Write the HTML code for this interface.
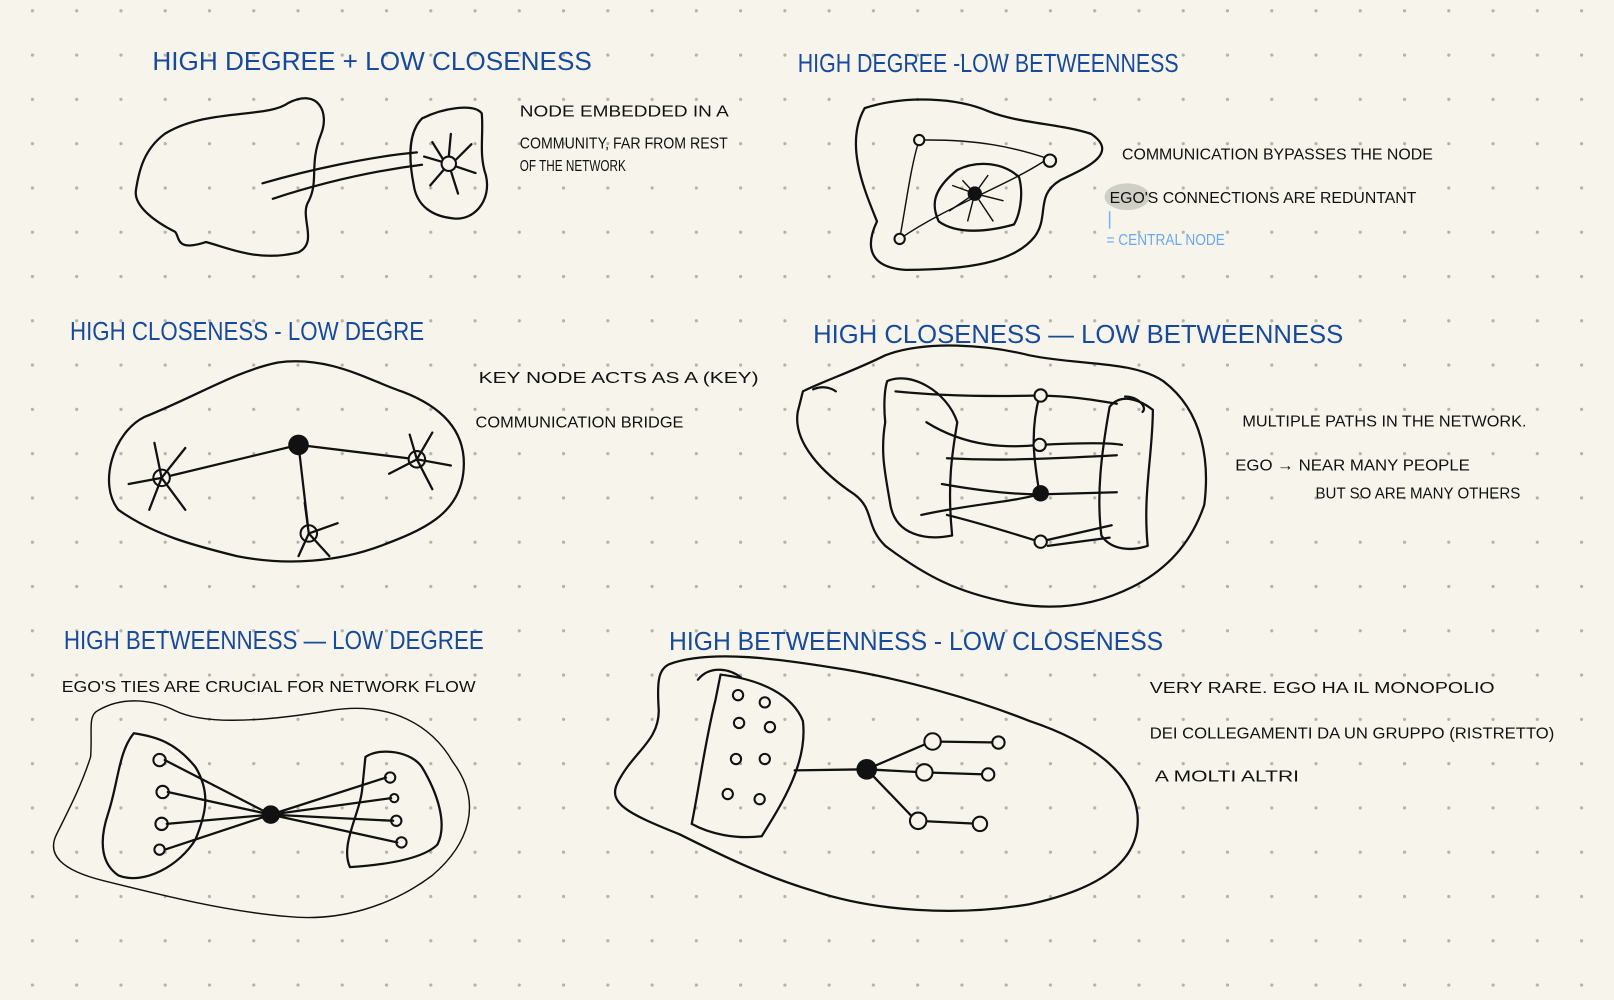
<!DOCTYPE html>
<html><head><meta charset="utf-8"><style>
html,body{margin:0;padding:0;background:#f7f5eb;}
svg{display:block}
.t{font-family:"Liberation Sans",sans-serif;fill:#174a9c;font-size:25px}
.n{font-family:"Liberation Sans",sans-serif;fill:#111;font-size:15px}
.l{fill:none;stroke:#111;stroke-width:2.2;stroke-linecap:round;stroke-linejoin:round}
.th{fill:none;stroke:#111;stroke-width:1.4}
.o{fill:#f7f5eb;stroke:#111;stroke-width:2}
</style></head><body>
<svg width="1614" height="1000" viewBox="0 0 1568 971" preserveAspectRatio="none">
<defs><pattern id="d" x="30" y="9" width="43" height="43" patternUnits="userSpaceOnUse"><circle cx="1.5" cy="1.5" r="1.6" fill="#b4b2aa"/></pattern></defs>
<rect width="1568" height="971" fill="#f7f5eb"/>
<rect width="1568" height="971" fill="url(#d)"/>

<!-- titles -->
<text class="t" x="148" y="68" textLength="427" lengthAdjust="spacingAndGlyphs">HIGH DEGREE + LOW CLOSENESS</text>
<text class="t" x="775" y="70" textLength="370" lengthAdjust="spacingAndGlyphs">HIGH DEGREE -LOW BETWEENNESS</text>
<text class="t" x="68" y="330" textLength="344" lengthAdjust="spacingAndGlyphs">HIGH CLOSENESS - LOW DEGRE</text>
<text class="t" x="790" y="333" textLength="515" lengthAdjust="spacingAndGlyphs">HIGH CLOSENESS — LOW BETWEENNESS</text>
<text class="t" x="62" y="630" textLength="408" lengthAdjust="spacingAndGlyphs">HIGH BETWEENNESS — LOW DEGREE</text>
<text class="t" x="650" y="631" textLength="480" lengthAdjust="spacingAndGlyphs">HIGH BETWEENNESS - LOW CLOSENESS</text>

<!-- notes -->
<text class="n" x="505" y="113" textLength="203" lengthAdjust="spacingAndGlyphs">NODE EMBEDDED IN A</text>
<text class="n" x="505" y="144" textLength="202" lengthAdjust="spacingAndGlyphs">COMMUNITY, FAR FROM REST</text>
<text class="n" x="505" y="166" font-size="12" textLength="103" lengthAdjust="spacingAndGlyphs">OF THE NETWORK</text>
<text class="n" x="1090" y="155" textLength="302" lengthAdjust="spacingAndGlyphs">COMMUNICATION BYPASSES THE NODE</text>
<ellipse cx="1095" cy="191" rx="22" ry="13" fill="#cfcfc6"/>
<text class="n" x="1078" y="197" textLength="298" lengthAdjust="spacingAndGlyphs">EGO'S  CONNECTIONS ARE REDUNTANT</text>
<line x1="1078" y1="205" x2="1078" y2="222" stroke="#7ab2f0" stroke-width="1.5"/>
<text class="n" x="1075" y="238" font-size="12" style="fill:#6aa8ee" textLength="115" lengthAdjust="spacingAndGlyphs">= CENTRAL NODE</text>
<text class="n" x="465" y="372" textLength="272" lengthAdjust="spacingAndGlyphs">KEY  NODE ACTS AS A (KEY)</text>
<text class="n" x="462" y="415" textLength="202" lengthAdjust="spacingAndGlyphs">COMMUNICATION BRIDGE</text>
<text class="n" x="1207" y="414" textLength="276" lengthAdjust="spacingAndGlyphs">MULTIPLE PATHS IN THE NETWORK.</text>
<text class="n" x="1200" y="457" textLength="228" lengthAdjust="spacingAndGlyphs">EGO →  NEAR MANY PEOPLE</text>
<text class="n" x="1278" y="484" font-size="13" textLength="199" lengthAdjust="spacingAndGlyphs">BUT SO ARE MANY OTHERS</text>
<text class="n" x="60" y="672" textLength="402" lengthAdjust="spacingAndGlyphs">EGO'S TIES ARE CRUCIAL FOR NETWORK FLOW</text>
<text class="n" x="1117" y="673" font-size="17" textLength="335" lengthAdjust="spacingAndGlyphs">VERY RARE. EGO HA IL MONOPOLIO</text>
<text class="n" x="1117" y="717" textLength="393" lengthAdjust="spacingAndGlyphs">DEI COLLEGAMENTI DA UN GRUPPO (RISTRETTO)</text>
<text class="n" x="1122" y="759" textLength="140" lengthAdjust="spacingAndGlyphs">A MOLTI ALTRI</text>

<!-- diagram 1 -->
<path class="l" d="M160,130 C200,105 260,115 280,100 C310,85 320,110 312,130 C300,160 310,175 300,195 C290,210 310,235 290,245 C250,255 220,240 200,235 C170,245 175,230 170,225 C150,215 130,200 132,185 C135,165 140,145 160,130 Z"/>
<path class="l" d="M255,178 C300,165 360,152 405,148 M265,193 C320,175 370,165 410,160"/>
<path class="l" d="M410,115 C430,105 460,100 468,110 C470,130 465,150 472,170 C478,195 460,215 440,212 C420,210 405,200 402,180 C398,160 395,130 410,115 Z"/>
<circle class="o" cx="436" cy="159" r="7"/>
<path class="l" d="M436,152 L438,130 M443,155 L458,140 M444,162 L462,168 M438,166 L445,188 M431,165 L418,180 M429,157 L412,152 M430,154 L420,138"/>

<!-- diagram 2 -->
<path class="l" d="M840,105 C880,92 930,95 960,108 C990,120 1030,120 1060,130 C1090,150 1050,165 1030,175 C1005,190 1020,210 1005,230 C985,255 940,262 880,262 C845,260 840,240 852,215 C840,185 820,140 840,105 Z"/>
<path class="th" d="M893,136 C950,135 985,143 1018,154 M893,136 C885,160 880,200 874,232 M874,232 C920,200 980,180 1018,154"/>
<circle class="o" cx="893" cy="136" r="5"/><circle class="o" cx="1020" cy="156" r="6"/><circle class="o" cx="874" cy="232" r="5"/>
<path class="l" d="M930,165 C950,155 975,158 990,172 C995,190 990,210 985,218 C960,225 930,228 912,215 C905,200 905,185 930,165 Z"/>
<circle cx="947" cy="188" r="7" fill="#111"/>
<path class="th" d="M947,188 L925,180 M947,188 L935,175 M947,188 L960,170 M947,188 L975,195 M947,188 L965,215 M947,188 L940,215 M947,188 L922,205"/>

<!-- diagram 3 -->
<path class="l" d="M140,405 C190,385 230,360 270,352 C320,345 360,370 390,380 C430,395 455,420 450,460 C445,500 410,515 370,530 C330,545 280,550 230,540 C190,530 150,520 115,495 C95,470 110,420 140,405 Z"/>
<path class="l" d="M157,464 L290,432 L405,446 M290,432 L300,518"/>
<circle cx="290" cy="432" r="10" fill="#111"/>
<circle class="o" cx="157" cy="464" r="8"/><circle class="o" cx="405" cy="446" r="8"/><circle class="o" cx="300" cy="518" r="8"/>
<path class="l" d="M157,464 L150,430 M157,464 L180,435 M157,464 L125,470 M157,464 L145,495 M157,464 L180,495 M405,446 L420,420 M405,446 L398,422 M405,446 L438,452 M405,446 L378,460 M405,446 L420,475 M300,518 L290,540 M300,518 L320,540 M300,518 L296,488 M300,518 L328,508"/>

<!-- diagram 4 -->
<path class="l" d="M780,380 C800,370 830,360 860,345 C900,330 960,335 1000,345 C1050,355 1100,350 1130,370 C1170,400 1175,450 1170,490 C1160,520 1140,550 1100,570 C1070,585 1030,595 980,585 C930,575 900,560 860,530 C840,510 850,495 830,480 C800,460 770,430 775,400 Z"/>
<path class="l" d="M790,378 C800,374 808,377 812,380"/>
<path class="l" d="M862,370 C885,360 920,380 930,410 C925,440 920,470 925,520 C900,525 870,520 865,490 C860,460 855,440 860,410 C858,390 860,375 862,370 Z"/>
<path class="l" d="M1078,395 C1090,380 1110,390 1120,398 C1120,440 1110,480 1115,530 C1100,535 1080,535 1070,520 C1065,480 1070,440 1078,395 Z"/>
<path class="l" d="M1093,385 C1105,385 1115,395 1110,400"/>
<path class="l" d="M870,380 C920,385 970,385 1010,384 M1010,384 C1050,385 1070,390 1085,392 M900,410 C940,435 980,435 1010,432 M1010,432 C1050,430 1080,430 1090,432 M920,445 C960,447 990,447 1085,442 M915,470 C960,478 990,480 1010,480 L1085,478 M920,500 C960,510 990,520 1010,526 M1010,526 L1080,510 M1018,530 L1078,522 M895,500 C940,490 980,488 1010,480 M1010,384 C1000,420 1005,450 1010,480"/>
<circle class="o" cx="1011" cy="384" r="6"/><circle class="o" cx="1010" cy="432" r="6"/><circle cx="1011" cy="479" r="8" fill="#111"/><circle class="o" cx="1011" cy="526" r="6"/>

<!-- diagram 5 -->
<path class="th" d="M95,690 C120,675 150,680 170,690 C200,705 260,700 320,690 C380,680 420,705 440,740 C470,780 455,820 420,850 C380,880 330,895 280,890 C220,885 160,870 100,855 C60,845 45,830 55,810 C70,780 80,760 88,735 C90,710 85,695 95,690 Z"/>
<path class="l" d="M130,712 C150,715 170,720 190,745 C205,770 200,790 190,815 C175,840 140,860 115,850 C100,840 95,820 105,790 C115,760 115,730 130,712 Z"/>
<path class="l" d="M355,735 C370,725 400,730 410,745 C425,770 435,800 425,820 C410,835 370,840 340,842 C330,820 350,790 352,765 Z"/>
<circle class="o" cx="155" cy="738" r="6"/><circle class="o" cx="158" cy="769" r="6"/><circle class="o" cx="157" cy="800" r="6"/><circle class="o" cx="155" cy="825" r="5"/>
<circle class="o" cx="379" cy="755" r="5"/><circle class="o" cx="383" cy="775" r="4"/><circle class="o" cx="385" cy="797" r="5"/><circle class="o" cx="390" cy="818" r="5"/>
<path class="l" d="M160,738 L263,791 M163,769 L263,791 M162,800 L263,791 M160,825 L263,791 M263,791 L375,755 M263,791 L380,775 M263,791 L382,797 M263,791 L386,818"/>
<circle cx="263" cy="791" r="9" fill="#111"/>

<!-- diagram 6 -->
<path class="l" d="M650,645 C690,630 760,640 820,650 C880,660 950,680 1000,700 C1060,720 1100,750 1105,790 C1110,840 1060,865 1000,878 C930,890 850,885 790,865 C740,850 700,830 660,810 C610,790 590,780 600,760 C615,730 640,720 640,690 C638,660 640,650 650,645 Z"/>
<path class="l" d="M678,660 C690,645 710,650 720,658"/>
<path class="l" d="M700,655 C740,660 770,675 780,700 C785,740 760,780 740,812 C715,815 690,810 672,800 C680,760 685,720 695,680 Z"/>
<circle class="o" cx="717" cy="675" r="5"/><circle class="o" cx="743" cy="682" r="5"/><circle class="o" cx="718" cy="702" r="5"/><circle class="o" cx="748" cy="706" r="5"/><circle class="o" cx="715" cy="737" r="5"/><circle class="o" cx="743" cy="737" r="5"/><circle class="o" cx="707" cy="771" r="5"/><circle class="o" cx="738" cy="776" r="5"/>
<path class="l" d="M772,748 L842,747 L905,720 L970,721 M842,747 L898,750 L960,752 M842,747 L890,797 L952,800"/>
<circle cx="842" cy="747" r="10" fill="#111"/>
<circle class="o" cx="906" cy="720" r="8"/><circle class="o" cx="970" cy="721" r="6"/><circle class="o" cx="898" cy="750" r="8"/><circle class="o" cx="960" cy="752" r="6"/><circle class="o" cx="892" cy="797" r="8"/><circle class="o" cx="952" cy="800" r="7"/>
</svg>
</body></html>
